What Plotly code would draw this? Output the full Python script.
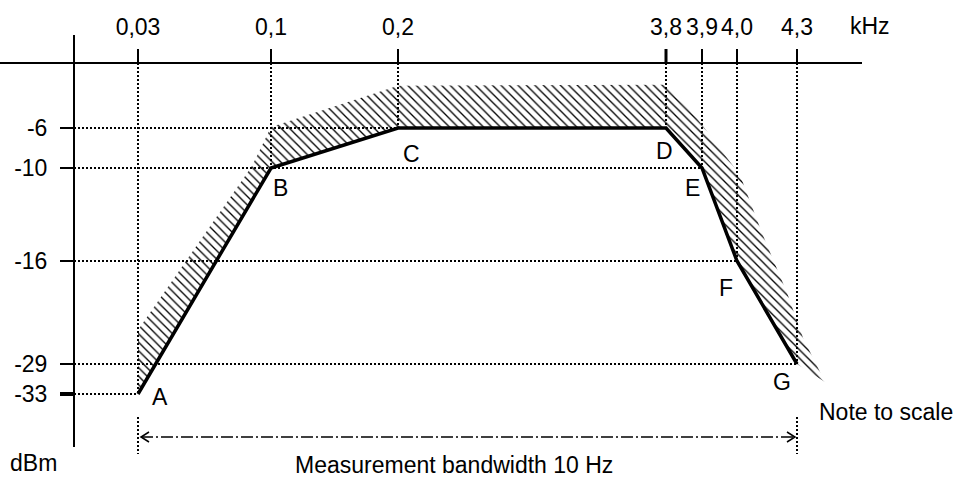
import numpy as np
import plotly.graph_objects as go

# ---------------- data ----------------
freq_labels = ["0,03", "0,1", "0,2", "3,8", "3,9", "4,0", "4,3"]
freq_khz = [0.03, 0.1, 0.2, 3.8, 3.9, 4.0, 4.3]
point_names = ["A", "B", "C", "D", "E", "F", "G"]
mask_dbm = [-33, -10, -6, -6, -10, -16, -29]

level_dbm = [-6, -10, -16, -29, -33]
level_labels = ["-6", "-10", "-16", "-29", "-33"]

# upper edge of the hatched tolerance band
band_khz = [0.03, 0.09, 0.1, 0.2, 3.8, 3.847, 4.015, 4.125, 4.25, 4.33, 4.44]
band_dbm = [-24.7, -9.8, -5.9, -2.1, -2.0, -3.4, -10.45, -14.2, -20.0, -25.7, -31.4]

# measurement bandwidth bracket (from 0,03 to 4,3 kHz)
bw_khz = [0.03, 4.3]

# ---------------- layout (schematic, "not to scale") ----------------
W, H = 956, 479
FONT = "Liberation Sans, Arial, sans-serif"
FS = 23
FREQ_POS = [138, 271, 398, 666, 702, 737, 797]       # screen positions of the frequency ticks
DBM_REF = [0, -6, -10, -16, -29, -33]                 # schematic level scale
DBM_POS = [63, 128, 168, 261, 364, 394]
YAXIS_X = 74
YAXIS_TOP, YAXIS_BOTTOM = 35, 447
XAXIS_RIGHT = 862
BR_TOP, BR_BOTTOM, BR_ARROW = 417, 454, 437


def scale(values, domain, rng):
    d = np.asarray(domain, float)
    r = np.asarray(rng, float)
    o = np.argsort(d)
    d, r = d[o], r[o]
    v = np.atleast_1d(np.asarray(values, float))
    out = np.interp(v, d, r)
    lo, hi = v < d[0], v > d[-1]
    out[lo] = r[0] + (v[lo] - d[0]) * (r[1] - r[0]) / (d[1] - d[0])
    out[hi] = r[-1] + (v[hi] - d[-1]) * (r[-1] - r[-2]) / (d[-1] - d[-2])
    return out


def sx(v):
    return scale(v, freq_khz, FREQ_POS)


def sy(v):
    return scale(v, DBM_REF, DBM_POS)


px, py = sx(freq_khz), sy(mask_dbm)
y0 = sy([0])[0]

fig = go.Figure()

# dotted guide lines
gx, gy = [], []
for lvl in level_dbm:
    xs = [px[i] for i in range(len(px)) if mask_dbm[i] == lvl]
    gx += [YAXIS_X, max(xs), None]
    gy += [sy([lvl])[0], sy([lvl])[0], None]
for xi, yi in zip(px, py):
    gx += [xi, xi, None]
    gy += [y0, yi, None]
bx = sx(bw_khz)
for xi in bx:
    gx += [xi, xi, None]
    gy += [BR_TOP, BR_BOTTOM, None]
fig.add_trace(go.Scatter(x=gx, y=gy, mode="lines", hoverinfo="skip",
                         line=dict(color="black", width=2, dash="2px,2px")))

# hatched tolerance band
hx = list(sx(band_khz)) + list(px[::-1])
hy = list(sy(band_dbm)) + list(py[::-1])
fig.add_trace(go.Scatter(x=hx, y=hy, mode="lines", fill="toself", hoverinfo="skip",
                         line=dict(width=0, color="rgba(0,0,0,0)"),
                         fillcolor="rgba(0,0,0,0)",
                         fillpattern=dict(shape="\\", size=6, solidity=0.22,
                                          fgcolor="black", fgopacity=1,
                                          bgcolor="rgba(0,0,0,0)")))

# mask line
fig.add_trace(go.Scatter(x=px, y=py, mode="lines", hoverinfo="skip",
                         line=dict(color="black", width=3.5)))

# measurement bandwidth arrow
fig.add_trace(go.Scatter(x=[bx[0] + 3, bx[1] - 2], y=[BR_ARROW, BR_ARROW], mode="lines",
                         hoverinfo="skip",
                         line=dict(color="black", width=1.5, dash="12px,3px,2px,3px")))
ax, ay = [], []
for xi, d in ((bx[0] + 3, 1), (bx[1] - 2, -1)):
    ax += [xi + 8 * d, xi, xi + 8 * d, None]
    ay += [BR_ARROW - 5, BR_ARROW, BR_ARROW + 5, None]
fig.add_trace(go.Scatter(x=ax, y=ay, mode="lines", hoverinfo="skip",
                         line=dict(color="black", width=1.5)))

# axis lines (+ emphasised ticks)
shapes = [
    dict(type="line", xref="x", yref="y", x0=0, x1=XAXIS_RIGHT, y0=y0, y1=y0,
         line=dict(color="black", width=2)),
    dict(type="line", xref="x", yref="y", x0=YAXIS_X, x1=YAXIS_X, y0=YAXIS_TOP, y1=YAXIS_BOTTOM,
         line=dict(color="black", width=2)),
    dict(type="line", xref="x", yref="y", x0=YAXIS_X - 14, x1=YAXIS_X, y0=sy([-33])[0], y1=sy([-33])[0],
         line=dict(color="black", width=4)),
    dict(type="line", xref="x", yref="y", x0=px[3], x1=px[3], y0=y0 - 14, y1=y0,
         line=dict(color="black", width=3)),
]

# point labels
offsets = [(22, 3), (9, 20), (13, 26), (-2, 23), (-10, 20), (-11, 27), (-15, 18)]
ann = []
for name, xi, yi, (dx, dy) in zip(point_names, px, py, offsets):
    ann.append(dict(x=xi, y=yi, text=name, showarrow=False, xshift=dx, yshift=-dy,
                    xanchor="center", yanchor="middle",
                    font=dict(family=FONT, size=FS, color="black")))

txt = dict(showarrow=False, xref="x", yref="y", xanchor="center", yanchor="middle",
           font=dict(family=FONT, size=FS, color="black"))
ann.append(dict(txt, x=870, y=26, text="kHz"))
ann.append(dict(txt, x=33, y=463, text="dBm"))
ann.append(dict(txt, x=886, y=412, text="Note to scale"))
ann.append(dict(txt, x=454, y=465, text="Measurement bandwidth 10 Hz"))

fig.update_layout(
    width=W, height=H, margin=dict(l=0, r=0, t=0, b=0),
    paper_bgcolor="white", plot_bgcolor="white", showlegend=False,
    shapes=shapes, annotations=ann,
    xaxis=dict(range=[0, W], domain=[0, 1], side="top", anchor="free", position=1 - y0 / H,
               showline=False, showgrid=False, zeroline=False,
               ticks="outside", ticklen=14, tickwidth=2, tickcolor="black",
               tickvals=list(px), ticktext=freq_labels, ticklabelstandoff=5,
               tickfont=dict(family=FONT, size=FS, color="black"), fixedrange=True),
    yaxis=dict(range=[H, 0], domain=[0, 1], anchor="free", position=YAXIS_X / W, side="left",
               showline=False, showgrid=False, zeroline=False,
               ticks="outside", ticklen=14, tickwidth=2, tickcolor="black",
               tickvals=list(sy(level_dbm)), ticktext=level_labels, ticklabelstandoff=8,
               tickfont=dict(family=FONT, size=FS, color="black"), fixedrange=True),
)

fig.write_html(
    "out.html",
    config={"displayModeBar": False},
    post_script="document.body.style.margin='0';document.body.style.overflow='hidden';"
                "document.documentElement.style.overflow='hidden';",
)
